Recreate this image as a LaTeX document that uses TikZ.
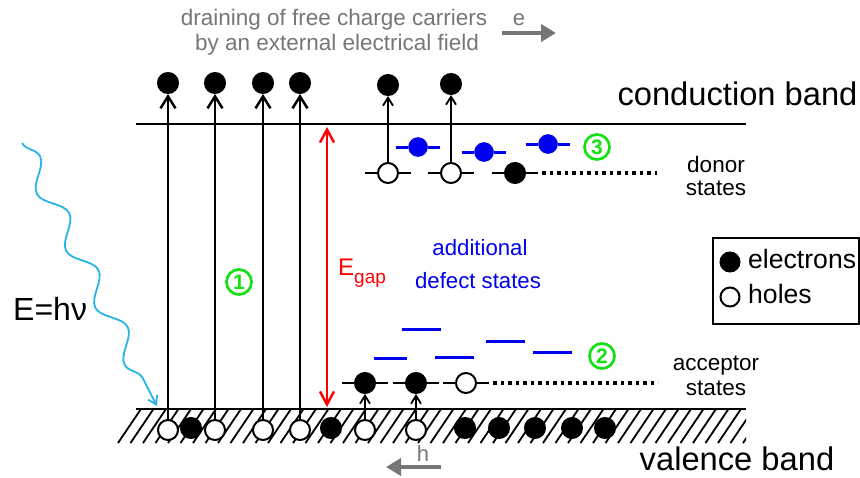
\documentclass[tikz,border=0pt]{standalone}
\usepackage{fontspec}
\setmainfont{Liberation Sans}
\usetikzlibrary{arrows.meta,decorations.pathmorphing}
\definecolor{grn}{RGB}{20,225,20}
\definecolor{cyanw}{RGB}{40,180,230}
\definecolor{gry}{RGB}{118,118,118}
\definecolor{blu}{RGB}{0,0,240}
\newcommand{\fs}[1]{\fontsize{#1}{#1}\selectfont}
\begin{document}
\begin{tikzpicture}[x=1pt,y=-1pt,
  elec/.style={circle,fill=black,draw=black,line width=2pt,minimum size=20pt,inner sep=0pt},
  hole/.style={circle,fill=white,draw=black,line width=2pt,minimum size=20pt,inner sep=0pt},
  belec/.style={circle,fill=blu,draw=blu,line width=0.5pt,minimum size=19pt,inner sep=0pt},
  band/.style={line width=2.7pt},
  bigarr/.style={line width=2.5pt,-{Straight Barb[length=12pt,width=15pt]}},
  smallarr/.style={line width=1.8pt,-{Straight Barb[length=8pt,width=10pt]}},
  level/.style={line width=2.6pt},
  blevel/.style={line width=3pt,blu},
  dots/.style={line width=3.5pt,dash pattern=on 3.5pt off 4pt},
  numc/.style={circle,draw=grn,text=grn,line width=2.7pt,minimum size=25pt,inner sep=0pt,font=\fs{21}\bfseries},
  txt/.style={anchor=base,inner sep=0pt},
  grayarr/.style={gry,line width=4.5pt,-{Triangle[length=15pt,width=17pt]}},
]
\useasboundingbox (0,0) rectangle (860,477);

% hatching of valence band
\begin{scope}
  \clip (100,409) rectangle (746,444);
  \foreach \i in {0,...,50} { \draw[line width=1.8pt] ({118+12.5*\i},443) -- ++(23,-34); }
\end{scope}

% bands
\coordinate (cbl) at (136,124); \coordinate (cbr) at (746,124);
\coordinate (vbl) at (136,409); \coordinate (vbr) at (746,409);
\draw[band] (cbl) -- (cbr);
\draw[band] (vbl) -- (vbr);

% top texts
\node[txt,gry,font=\fs{22.5}] (t1) at (334,25) {draining of free charge carriers};
\node[txt,gry,font=\fs{22.5}] (t2) at (337,50) {by an external electrical field};
\coordinate (ea) at (502,33); \coordinate (eb) at (556,33);
\draw[grayarr] (ea) -- (eb);
\node[txt,gry,font=\fs{22}] (el) at (519,25) {e};
\coordinate (ha) at (441,467); \coordinate (hb) at (386,467);
\draw[grayarr] (ha) -- (hb);
\node[txt,gry,font=\fs{22}] (hl) at (423,461) {h};

\node[txt,font=\fs{32.7}] (cb) at (737.5,105) {conduction band};
\node[txt,font=\fs{32.7}] (vb) at (737,470) {valence band};
\node[txt,font=\fs{22.5}] (don1) at (716,172) {donor};
\node[txt,font=\fs{22.5}] (don2) at (716,195) {states};
\node[txt,font=\fs{22.5}] (acc1) at (716,370) {acceptor};
\node[txt,font=\fs{22.5}] (acc2) at (716,395) {states};
\node[txt,blu,font=\fs{22.2}] (ad1) at (480,255) {additional};
\node[txt,blu,font=\fs{22.2}] (ad2) at (478,288) {defect states};
\node[anchor=base west,inner sep=0pt,font=\fs{32}] (ehv) at (13,320) {E=hν};
\node[anchor=base west,inner sep=0pt,red] (eg) at (338,275) {\fs{24}E\raisebox{-8pt}{\fs{19}gap}};

% top electrons
\node[elec] (c1) at (168,83) {};
\node[elec] (c2) at (215,83) {};
\node[elec] (c3) at (263,83) {};
\node[elec] (c4) at (300,83) {};
\node[elec] (c5) at (388,85) {};
\node[elec] (c6) at (451,84) {};

% valence band holes and electrons
\node[hole] (v1) at (168,430) {};
\node[hole] (v2) at (215,430) {};
\node[hole] (v3) at (263,430) {};
\node[hole] (v4) at (300,430) {};
\node[hole] (v5) at (365,430) {};
\node[hole] (v6) at (416,430) {};
\node[elec] (ve1) at (191,428) {};
\node[elec] (ve2) at (331,428) {};
\node[elec] (ve3) at (465,428) {};
\node[elec] (ve4) at (499,428) {};
\node[elec] (ve5) at (535,428) {};
\node[elec] (ve6) at (572,428) {};
\node[elec] (ve7) at (605,428) {};

% band-to-band excitations
\draw[bigarr] (v1.north) -- (c1.south);
\draw[bigarr] (v2.north) -- (c2.south);
\draw[bigarr] (v3.north) -- (c3.south);
\draw[bigarr] (v4.north) -- (c4.south);

% acceptor states
\node[elec] (a1) at (365,383) {};
\node[elec] (a2) at (416,383) {};
\node[hole] (a3) at (466,383) {};
\foreach \n in {a1,a2,a3} {
  \draw[level] (\n.west) -- ++(-12,0);
  \draw[level] (\n.east) -- ++(12,0);
}
\coordinate (ad0) at (493,383); \coordinate (ad9) at (658,383);
\draw[dots] (ad0) -- (ad9);
\draw[smallarr] (v5.north) -- (a1.south);
\draw[smallarr] (v6.north) -- (a2.south);

% donor states
\node[hole] (d1) at (388,173) {};
\node[hole] (d2) at (451,173) {};
\node[elec] (d3) at (515,173) {};
\foreach \n in {d1,d2,d3} {
  \draw[level] (\n.west) -- ++(-12,0);
  \draw[level] (\n.east) -- ++(12,0);
}
\coordinate (dd0) at (542,173); \coordinate (dd9) at (657,173);
\draw[dots] (dd0) -- (dd9);
\draw[smallarr] (d1.north) -- (c5.south);
\draw[smallarr] (d2.north) -- (c6.south);

% blue defect states near conduction band
\node[belec] (b1) at (418,147) {};
\node[belec] (b2) at (484,152) {};
\node[belec] (b3) at (548,144) {};
\foreach \n in {b1,b2,b3} {
  \draw[blevel] (\n.west) -- ++(-12.5,0);
  \draw[blevel] (\n.east) -- ++(12.5,0);
}
% blue defect states near valence band
\draw[blevel] (374,358) -- (407,358);
\draw[blevel] (402,329) -- (441,329);
\draw[blevel] (435,357) -- (474,357);
\draw[blevel] (486,341) -- (525,341);
\draw[blevel] (533,352) -- (572,352);

% gap arrow
\coordinate (gt) at (327,127); \coordinate (gb) at (327,407);
\draw[red,line width=2.4pt,{Straight Barb[length=13pt,width=14pt]}-{Straight Barb[length=13pt,width=14pt]}] (gt) -- (gb);

% numbered markers
\node[numc] (n1) at (239,282) {1};
\node[numc] (n2) at (602,356) {2};
\node[numc] (n3) at (597,147) {3};

% photon
\coordinate (ph0) at (22,143); \coordinate (ph1) at (157,406);
\draw[cyanw,line width=1.8pt,decorate,decoration={snake,amplitude=10pt,segment length=64pt,post length=10pt},-{Straight Barb[length=8pt,width=10pt]}] (ph0) -- (ph1);

% legend
\node[draw,line width=1.6pt,minimum width=146pt,minimum height=86pt,anchor=north west,inner sep=0pt] (legend) at (712,237) {};
\node[elec,minimum size=19pt] (le) at (730,262) {};
\node[anchor=base west,inner sep=0pt,font=\fs{26.6}] (lt1) at (748,268) {electrons};
\node[hole,minimum size=19pt] (lh) at (730,297) {};
\node[anchor=base west,inner sep=0pt,font=\fs{26.6}] (lt2) at (748,303) {holes};
\end{tikzpicture}
\end{document}
